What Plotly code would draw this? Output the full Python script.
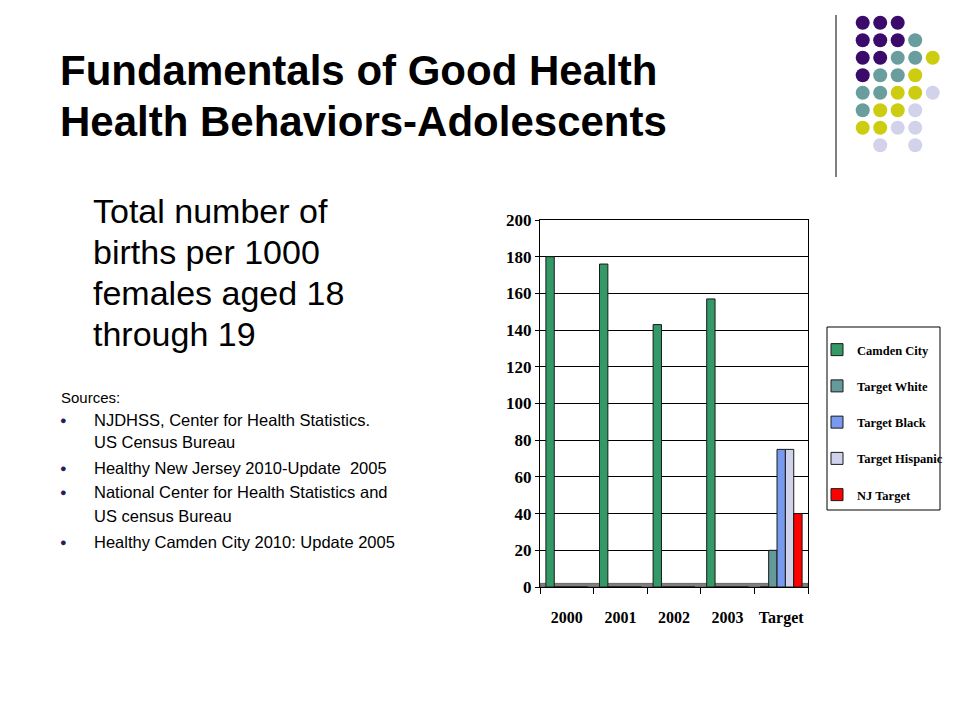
import plotly.graph_objects as go

# ---------------- data ----------------
categories = ["2000", "2001", "2002", "2003", "Target"]
camden_city = [180, 176, 143, 157, 0]
target_white = [0, 0, 0, 0, 20]
target_black = [0, 0, 0, 0, 75]
target_hispanic = [0, 0, 0, 0, 75]
nj_target = [0, 0, 0, 0, 40]
y_ticks = [0, 20, 40, 60, 80, 100, 120, 140, 160, 180, 200]

series_names = ["Camden City", "Target White", "Target Black", "Target Hispanic", "NJ Target"]
series_values = [camden_city, target_white, target_black, target_hispanic, nj_target]
series_colors = ["#339966", "#669999", "#7799EE", "#D0D2EC", "#FF0000"]

title_lines = ["Fundamentals of Good Health", "Health Behaviors-Adolescents"]
body_lines = ["Total number of", "births per 1000", "females aged 18", "through 19"]
sources_items = [
    ["NJDHSS, Center for Health Statistics.", "US Census Bureau"],
    ["Healthy New Jersey 2010-Update  2005"],
    ["National Center for Health Statistics and", "US census Bureau"],
    ["Healthy Camden City 2010: Update 2005"],
]

# decorative dot grid (row, col, color)
P, T, Y, L = "#3B0B6B", "#6A9E9E", "#CCCC11", "#D2D2EA"
dot_grid = [
    [P, P, P, None, None],
    [P, P, P, T, None],
    [P, P, T, T, Y],
    [P, T, T, Y, None],
    [T, T, Y, Y, L],
    [T, Y, Y, L, None],
    [Y, Y, L, L, None],
    [None, L, None, L, None],
]

W, H = 960, 720
OFF = 8  # page body margin
def px(x):
    return (x - OFF) / W
def py(y):
    return 1 - (y - OFF) / H

fig = go.Figure()

for name, vals, col in zip(series_names, series_values, series_colors):
    fig.add_trace(go.Bar(
        x=categories, y=vals, name=name, legendgroup=name,
        marker=dict(color=col, line=dict(color="#1a1a1a", width=1)),
    ))

# dot decoration
dx, dy, dc = [], [], []
for r, row in enumerate(dot_grid):
    for c, colr in enumerate(row):
        if colr:
            dx.append(c)
            dy.append(r)
            dc.append(colr)
fig.add_trace(go.Scatter(
    x=dx, y=dy, mode="markers", xaxis="x2", yaxis="y2", showlegend=False,
    marker=dict(size=14, color=dc, line=dict(width=0)), hoverinfo="skip",
))

serif = "Liberation Serif"
sans = "Liberation Sans"

fig.update_layout(
    width=W, height=H, margin=dict(l=0, r=0, t=0, b=0, autoexpand=False),
    paper_bgcolor="white", plot_bgcolor="white",
    barmode="group", bargap=0.22, bargroupgap=0,
    showlegend=True,
    legend=dict(
        x=px(817), y=py(335), xanchor="left", yanchor="top",
        borderwidth=0, bgcolor="rgba(0,0,0,0)",
        font=dict(family=serif, size=12.5, color="black", weight="bold"),
        tracegroupgap=17, itemwidth=30,
    ),
    xaxis=dict(
        domain=[px(540), px(808)], showline=True, linecolor="black", linewidth=1,
        ticks="outside", tickson="boundaries", ticklen=6, tickcolor="black",
        ticklabelstandoff=16, showgrid=False, tickangle=0,
        tickfont=dict(family=serif, size=16, color="black", weight="bold"),
        mirror=True,
    ),
    yaxis=dict(
        domain=[py(587), py(220)], range=[0, 200], tickvals=y_ticks,
        showline=True, linecolor="black", linewidth=1, mirror=True,
        ticks="outside", ticklen=4, tickcolor="black",
        showgrid=True, gridcolor="black", gridwidth=1, zeroline=False,
        tickfont=dict(family=serif, size=17, color="black", weight="bold"),
    ),
    xaxis2=dict(domain=[px(850), px(950)], range=[-0.726, 4.988], visible=False,
                anchor="y2", fixedrange=True),
    yaxis2=dict(domain=[py(160), py(10)], range=[7.845, -0.726], visible=False,
                anchor="x2", fixedrange=True),
)

# floor of the chart
fig.add_shape(type="rect", xref="x domain", yref="y", x0=0, x1=1, y0=0, y1=2,
              fillcolor="#808080", line=dict(color="#333333", width=0.5), layer="below")

# legend frame
fig.add_shape(type="rect", xref="paper", yref="paper", x0=px(827), x1=px(940),
              y0=py(510), y1=py(327), line=dict(color="black", width=1),
              fillcolor="rgba(0,0,0,0)", layer="below")

# vertical decorative line
fig.add_shape(type="line", xref="paper", yref="paper", x0=px(836), x1=px(836),
              y0=py(15), y1=py(177), line=dict(color="black", width=1))

ann = []
for i, t in enumerate(title_lines):
    ann.append(dict(text=t, x=px(58), y=py(70 + 51 * i), xanchor="left", yanchor="middle",
                    font=dict(family=sans, size=42, color="black", weight="bold")))
for i, t in enumerate(body_lines):
    ann.append(dict(text=t, x=px(91), y=py(211 + 41 * i), xanchor="left", yanchor="middle",
                    font=dict(family=sans, size=34, color="black")))
ann.append(dict(text="Sources:", x=px(59), y=py(397), xanchor="left", yanchor="middle",
                font=dict(family=sans, size=15, color="black")))
src_y = [[420, 442], [468], [492, 516], [542]]
for item, ys in zip(sources_items, src_y):
    ann.append(dict(text="●", x=px(63), y=py(ys[0]), xanchor="center", yanchor="middle",
                    font=dict(family=sans, size=11, color="#2B1B5B")))
    for t, yy in zip(item, ys):
        ann.append(dict(text=t, x=px(92), y=py(yy), xanchor="left", yanchor="middle",
                        font=dict(family=sans, size=16.5, color="black")))
for a in ann:
    a.update(xref="paper", yref="paper", showarrow=False)
fig.update_layout(annotations=ann)

fig.write_html("out.html")
